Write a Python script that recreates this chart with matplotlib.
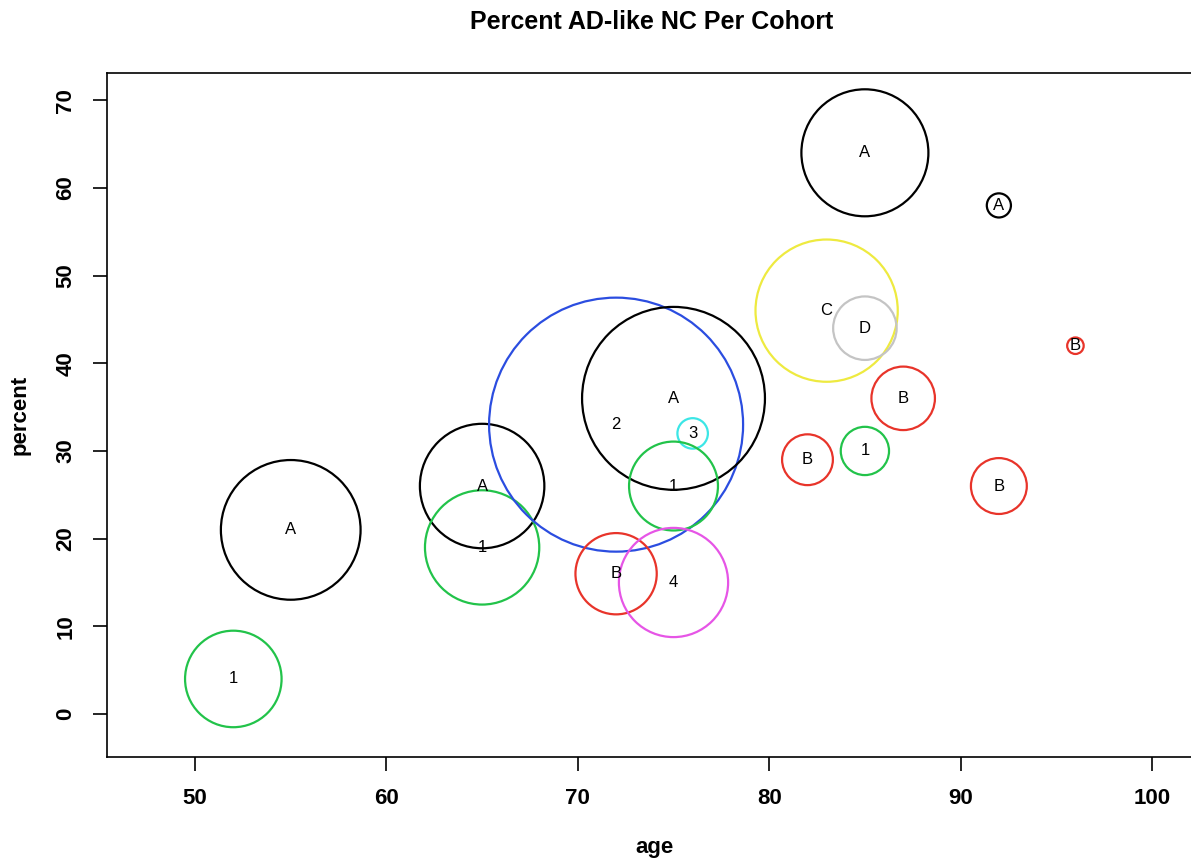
import numpy as np
import matplotlib.pyplot as plt

plt.rcParams['font.family'] = ['Liberation Sans', 'DejaVu Sans']

# cohort data
age = [55, 52, 65, 65, 72, 75, 76, 75, 72, 75, 85, 92, 83, 85, 96, 87, 82, 85, 92]
percent = [21, 4, 26, 19, 33, 36, 32, 26, 16, 15, 64, 58, 46, 44, 42, 36, 29, 30, 26]
label = ['A', '1', 'A', '1', '2', 'A', '3', '1', 'B', '4', 'A', 'A', 'C', 'D', 'B', 'B', 'B', '1', 'B']
# relative circle radius (largest = 1)
size = [0.55, 0.38, 0.49, 0.45, 1.0, 0.72, 0.12, 0.35, 0.32, 0.43, 0.50, 0.095, 0.56, 0.25, 0.065, 0.25, 0.20, 0.19, 0.22]
colours = {'A': '#000000', 'B': '#e8342a', 'C': '#eeea40', 'D': '#c4c4c4',
           '1': '#22c34a', '2': '#2b4de0', '3': '#3ce6e6', '4': '#e655e6'}

fig = plt.figure(figsize=(11.91, 8.59), dpi=100)
ax = fig.add_axes([107/1191, (859-757)/859, (1196-107)/1191, (757-73)/859])

max_r_px = 127
for x, y, lab, s in zip(age, percent, label, size):
    d_pt = 2 * s * max_r_px * 72 / 100
    ax.scatter(x, y, s=d_pt**2, facecolors='none', edgecolors=colours[lab],
               linewidths=1.6, clip_on=False)
    ax.text(x, y, lab, ha='center', va='center', fontsize=12)

ax.set_xlim(45.4, 102.3)
ax.set_ylim(-4.9, 73.1)
ax.set_xticks([50, 60, 70, 80, 90, 100])
ax.set_yticks([0, 10, 20, 30, 40, 50, 60, 70])
ax.tick_params(length=10, width=1.2, labelsize=16, pad=12)
for t in ax.get_xticklabels() + ax.get_yticklabels():
    t.set_fontweight('bold')
for t in ax.get_yticklabels():
    t.set_rotation(90)
    t.set_va('center')
for sp in ax.spines.values():
    sp.set_linewidth(1.2)

fig.text(655/1191, 1 - 848/859, 'age', ha='center', va='center', fontsize=16, fontweight='bold')
fig.text(20/1191, 1 - 415/859, 'percent', ha='center', va='center', rotation=90,
         fontsize=16, fontweight='bold')
fig.text(652/1191, 1 - 22/859, 'Percent AD-like NC Per Cohort', ha='center', va='center',
         fontsize=18, fontweight='bold')

fig.savefig('out.png', dpi=100)
